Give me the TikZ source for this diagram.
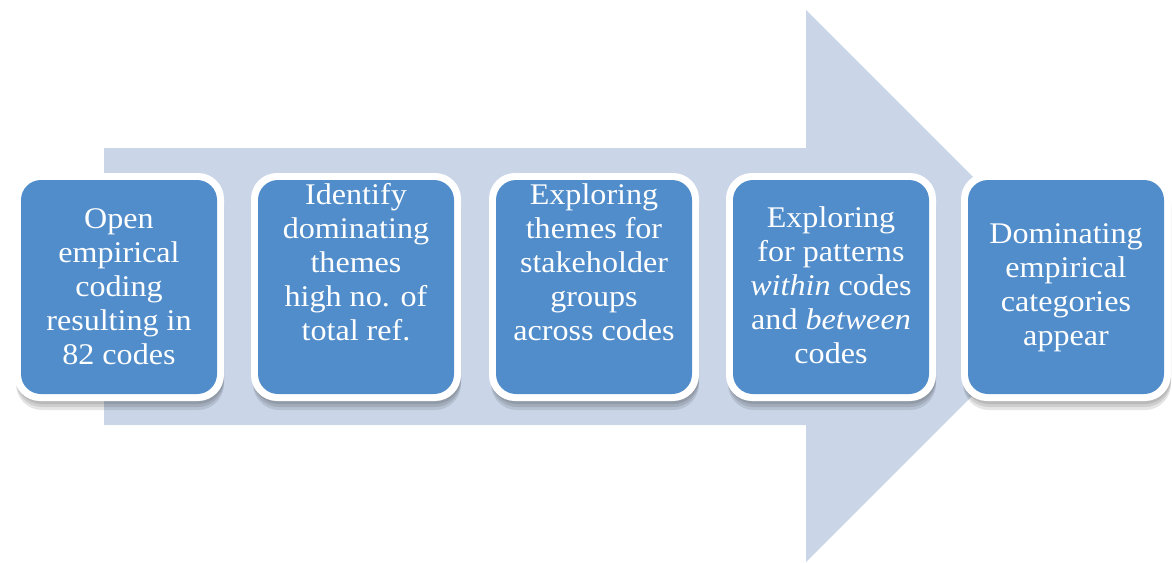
\documentclass[tikz,border=0pt]{standalone}
\usepackage{fontspec}
\setmainfont[FakeStretch=1.07]{Liberation Serif}
\definecolor{arrowfill}{RGB}{202,214,232}
\definecolor{boxblue}{RGB}{81,141,202}
\tikzset{
  outerbox/.style={draw=none, fill=white, rounded corners=26pt, minimum width=210pt, minimum height=228pt, inner sep=0pt},
  innerbox/.style={draw=none, fill=boxblue, rounded corners=20pt, minimum width=196pt, minimum height=214pt, inner sep=0pt},
  shadowbox/.style={draw=none, fill=black, fill opacity=0.10, rounded corners=26pt, minimum width=208pt, minimum height=228pt, inner sep=0pt},
  boxtext/.style={text=white, align=center, anchor=base, inner sep=0pt, font=\fontsize{30}{34}\selectfont}
}
\begin{document}
\begin{tikzpicture}[x=1pt,y=-1pt]
\useasboundingbox (0,0) rectangle (1172,562);
% big arrow
\fill[arrowfill] (104,148) -- (806,148) -- (806,10) -- (1082,286) -- (806,562) -- (806,425) -- (104,425) -- cycle;
% boxes
\foreach \i/\cx in {1/119,2/356,3/594,4/831,5/1066}{
  \node[shadowbox] (sa\i) at (\cx+1,290) {};
  \node[shadowbox] (sb\i) at (\cx+1,293) {};
  \node[shadowbox] (sc\i) at (\cx+1,296) {};
  \node[outerbox] (b\i) at (\cx,287) {};
  \node[innerbox] (i\i) at (b\i.center) {};
}
\node[boxtext] (t1) at (119,364) {Open\\empirical\\coding\\resulting in\\82 codes};
\node[boxtext] (t2) at (356,340) {Identify\\dominating\\themes\\high no. of\\total ref.};
\node[boxtext] (t3) at (594,340) {Exploring\\themes for\\stakeholder\\groups\\across codes};
\node[boxtext] (t4) at (831,363) {Exploring\\for patterns\\\textit{within} codes\\and \textit{between}\\codes};
\node[boxtext] (t5) at (1066,345) {Dominating\\empirical\\categories\\appear};
\end{tikzpicture}
\end{document}
